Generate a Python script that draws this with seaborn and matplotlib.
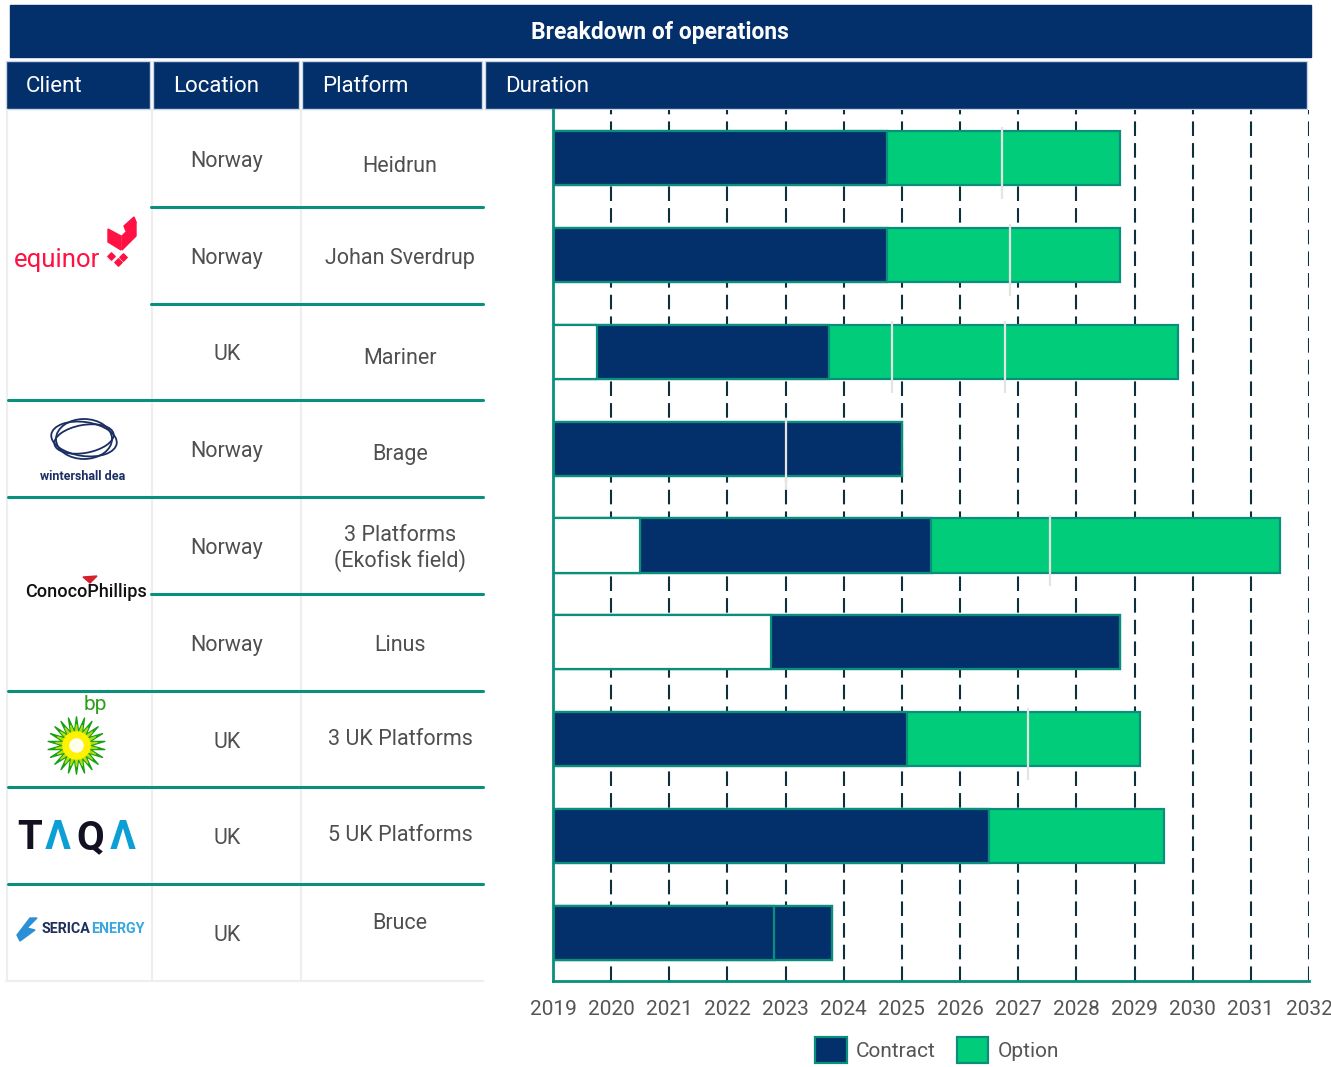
import matplotlib
matplotlib.use("Agg")
import matplotlib.pyplot as plt
from matplotlib.patches import Rectangle, Polygon, Ellipse, Patch
import numpy as np
import pandas as pd
import seaborn as sns

# ---- data ----
platforms = ["Heidrun", "Johan Sverdrup", "Mariner", "Brage",
             "3 Platforms\n(Ekofisk field)", "Linus", "3 UK Platforms",
             "5 UK Platforms", "Bruce"]
locations = ["Norway", "Norway", "UK", "Norway", "Norway", "Norway", "UK", "UK", "UK"]
start_year = [2019, 2019, 2019.75, 2019, 2020.5, 2022.75, 2019, 2019, 2019]
contract_end = [2024.75, 2024.75, 2023.75, 2025.0, 2025.5, 2028.75, 2025.08, 2026.5, 2023.8]
option_end = [2028.75, 2028.75, 2029.75, 2025.0, 2031.5, 2028.75, 2029.1, 2029.5, 2023.8]
contract_split = [np.nan, np.nan, np.nan, np.nan, np.nan, np.nan, np.nan, np.nan, 2022.8]
marker_rows = [0, 1, 2, 2, 3, 4, 6]
marker_years = [2026.72, 2026.86, 2024.83, 2026.77, 2023.0, 2027.55, 2027.17]
years = list(range(2019, 2033))

navy = "#03306b"
green = "#00cc7a"
teal = "#0a8f7c"
grey_txt = "#4f4f4f"

sns.set_theme(style="white")
plt.rcParams["font.family"] = ["Roboto", "DejaVu Sans"]

W, H = 1331, 1067
fig = plt.figure(figsize=(W / 100, H / 100), dpi=100)

# ---- table layer (pixel coordinates) ----
tab = fig.add_axes([0, 0, 1, 1], zorder=0)
tab.set_xlim(0, W)
tab.set_ylim(H, 0)
tab.axis("off")

tab.add_patch(Rectangle((10, 5), 1301, 52, color=navy))
tab.text(660, 33, "Breakdown of operations", color="white", fontsize=16.5,
         fontweight="bold", ha="center", va="center")

heads = ["Client", "Location", "Platform", "Duration"]
head_x = [6, 153, 302, 485]
head_w = [144, 146, 180, 822]
for h, x0, w in zip(heads, head_x, head_w):
    tab.add_patch(Rectangle((x0, 61), w, 48, facecolor=navy, edgecolor="#c9d5e8", lw=1))
    tab.text(x0 + 20, 87, h, color="white", fontsize=16, ha="left", va="center")

top, rh = 110, (981 - 110) / 9
for x in [7, 152, 301]:
    tab.plot([x, x], [top, 981], color="#eeeeee", lw=1.6, zorder=1)
tab.plot([6, 483], [981, 981], color="#eeeeee", lw=1.6)

full_div = [False, False, True, True, False, True, True, True]
for i, full in enumerate(full_div):
    y = top + (i + 1) * rh
    tab.plot([8 if full else 151, 483], [y, y], color=teal, lw=2.2, zorder=2)

plat_dy = [5, 0, 4, 3, 0, 0, -3, -3, -12]
for i, (loc, pl) in enumerate(zip(locations, platforms)):
    yc = top + (i + 0.5) * rh + 3
    tab.text(227, yc, loc, color=grey_txt, fontsize=15.5,
             ha="center", va="center")
    tab.text(400, yc + plat_dy[i], pl, color=grey_txt, fontsize=15.5,
             ha="center", va="center", multialignment="center", linespacing=1.15)

# client "logos" as text + simple shapes
tab.text(14, 260, "equinor", color="#ff1243", fontsize=18.5, ha="left", va="center")
tab.add_patch(Polygon([(108, 229), (121, 236), (121, 250), (108, 242)], color="#ff1243"))
tab.add_patch(Polygon([(122, 236), (136, 222), (136, 236), (122, 250)], color="#ff1243"))
tab.add_patch(Polygon([(124, 226), (134, 217), (136, 222), (126, 231)], color="#ff1243"))
tab.scatter([111, 123, 118], [256, 257, 262], marker="D", s=14, color="#ff1243")

for w_, h_, a_ in [(66, 34, 8), (60, 28, -10), (56, 40, 0)]:
    tab.add_patch(Ellipse((84, 439), w_, h_, angle=a_, fill=False, ec="#1b2f63", lw=1.3))
tab.text(83, 477, "wintershall dea", color="#1b2f63", fontsize=9, fontweight="bold",
         ha="center", va="center")

tab.text(86, 592, "ConocoPhillips", color="#111111", fontsize=13, fontweight="medium",
         ha="center", va="center")
tab.add_patch(Polygon([(83, 577), (97, 576), (90, 583)], color="#d4212a"))

tab.text(95, 705, "bp", color="#2ca01c", fontsize=15, ha="center", va="center")
tab.scatter([76], [745], marker=(22, 1, 0), s=1700, color="#17a012", zorder=3)
tab.scatter([76], [745], marker=(22, 1, 0), s=900, color="#b4dc14", zorder=4)
tab.scatter([76], [745], marker="o", s=380, color="#fff200", zorder=5)
tab.scatter([76], [745], marker="o", s=90, color="#ffffee", zorder=6)

for ch, x, col in zip(["T", "Λ", "Q", "Λ"], [30, 58, 90, 123],
                      ["#111122", "#0b9fd6", "#111122", "#0b9fd6"]):
    tab.text(x, 838, ch, color=col, fontsize=29, fontweight="bold", ha="center", va="center")

tab.add_patch(Polygon([(17, 935), (30, 918), (37, 918), (27, 928), (35, 930), (20, 941)],
                      color="#2b8fd6"))
tab.text(41, 929, "SERICA", color="#1f2f5c", fontsize=10.3, fontweight="bold",
         ha="left", va="center")
tab.text(91, 929, "ENERGY", color="#3aa7e0", fontsize=10.3, fontweight="bold",
         ha="left", va="center")

# ---- gantt chart ----
ax = fig.add_axes([553 / W, 86 / H, 756 / W, 871 / H], zorder=1)
df = pd.DataFrame({"platform": platforms, "start": start_year, "contract": contract_end,
                   "option": option_end, "split": contract_split})
bw = 0.56
kw = dict(y="platform", order=platforms, orient="h", width=bw, errorbar=None,
          saturation=1, edgecolor=teal, linewidth=1.6, ax=ax)
sns.barplot(data=df, x="option", color=green, **kw)
sns.barplot(data=df, x="contract", color=navy, **kw)
sns.barplot(data=df[df["start"] > 2019], x="start", color="white", **kw)
sns.barplot(data=df.dropna(subset=["split"]), x="split", color=navy, **kw)
for p in ax.patches:
    p.set_zorder(3)

ax.vlines(marker_years, np.array(marker_rows) - 0.32, np.array(marker_rows) + 0.42,
          color="#e4e4e4", lw=1.6, zorder=4)

ax.set_xlim(2019, 2032)
ax.set_ylim(8.5, -0.5)
ax.set_xticks(years)
ax.set_xticklabels([str(y) for y in years], fontsize=15, color="#555555")
ax.set_yticks([])
ax.set_xlabel("")
ax.set_ylabel("")
ax.grid(axis="x", color="#0e2f3b", lw=1.5, linestyle=(0, (7, 3.4)))
ax.grid(axis="y", visible=False)
ax.set_axisbelow(True)
for s in ["top", "right"]:
    ax.spines[s].set_visible(False)
for s in ["left", "bottom"]:
    ax.spines[s].set_color(teal)
    ax.spines[s].set_linewidth(2)
    ax.spines[s].set_zorder(5)
ax.tick_params(axis="x", direction="inout", length=8, width=1.5, color="#0e2f3b", pad=10)

handles = [Patch(facecolor=navy, edgecolor=teal, lw=1.6, label="Contract"),
           Patch(facecolor=green, edgecolor=teal, lw=1.6, label="Option")]
fig.legend(handles=handles, loc="center", bbox_to_anchor=(0.704, 0.016), ncol=2,
           frameon=False, handlelength=1.5, handleheight=1.5,
           handletextpad=0.45, columnspacing=1.0, labelcolor="#555555",
           prop={"size": 15})

fig.savefig("out.png", dpi=100)
